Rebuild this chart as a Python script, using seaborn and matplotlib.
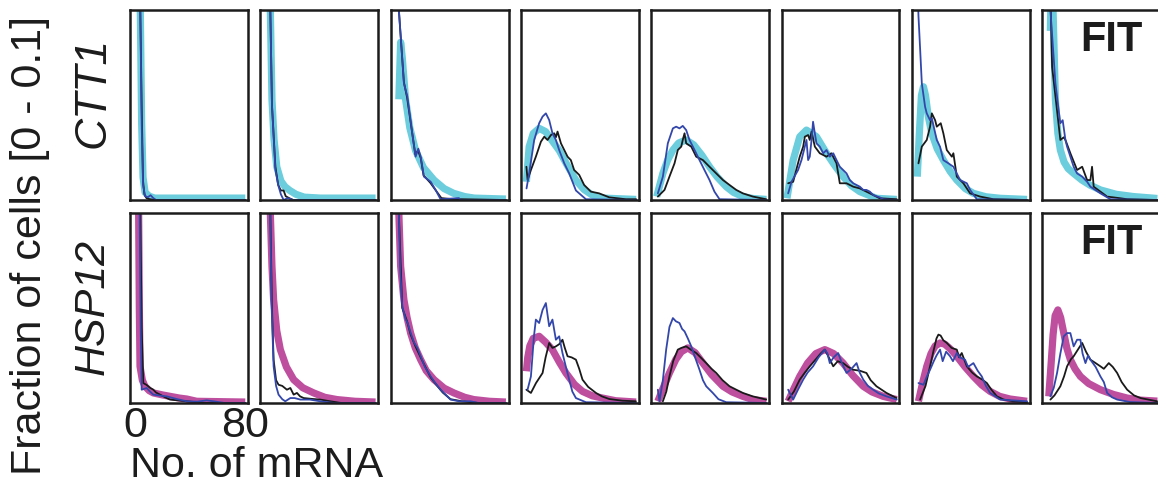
import matplotlib
matplotlib.use("Agg")
import matplotlib.pyplot as plt
import pandas as pd
import seaborn as sns

# ---------------- data (x = No. of mRNA, y = fraction of cells) ----------------
genes = ["CTT1", "HSP12"]
x_ticks = [0, 80]
x_tick_labels = ["0", "80"]
y_label = "Fraction of cells [0 - 0.1]"
x_label = "No. of mRNA"
fit_label = "FIT"

# CTT1 — fit (thick cyan), measured replicate (black), measured replicate (blue), 8 conditions
ctt1_fit = [
    [(0, 1.0), (2, 0.5), (3.5, 0.1), (4.5, 0.04), (5.5, 0.012), (7, 0.004), (10, 0.002), (14, 0.001), (80, 0.001)],
    [(0, 0.6), (2, 0.2), (3.3, 0.1), (4.5, 0.053), (6, 0.032), (8, 0.0175), (11, 0.01), (14, 0.007), (17.5, 0.005),
     (22, 0.003), (28, 0.0015), (40, 0.001), (80, 0.001)],
    [(2, 0.053), (3.3, 0.083), (4.5, 0.075), (6.9, 0.053), (10, 0.038), (14.2, 0.026), (20, 0.017), (27.6, 0.0105),
     (35, 0.006), (42, 0.0035), (50, 0.0018), (57, 0.001), (80, 0.0005)],
    [(0, 0.0096), (2, 0.028), (5, 0.035), (9.3, 0.0377), (14, 0.036), (19, 0.031), (24, 0.026), (30, 0.018),
     (36, 0.0105), (42, 0.0055), (48, 0.0026), (56, 0.001), (80, 0.0003)],
    [(0, 0.0018), (4.5, 0.014), (8, 0.021), (11.8, 0.0263), (16, 0.030), (21.5, 0.0316), (27, 0.029), (33, 0.0235),
     (38.5, 0.0175), (44, 0.0122), (50.7, 0.007), (56, 0.004), (62.8, 0.0018), (70, 0.0008), (80, 0.0003)],
    [(0, 0.0009), (4.5, 0.021), (9.3, 0.0333), (14.2, 0.0368), (21.5, 0.0333), (28.8, 0.0246), (35, 0.018),
     (40.9, 0.0123), (47, 0.0075), (53.1, 0.0044), (65.2, 0.0009), (80, 0.0003)],
    [(0, 0.0123), (1.5, 0.035), (3, 0.055), (4.5, 0.0596), (6, 0.055), (8, 0.044), (10.6, 0.035), (14.5, 0.027),
     (19, 0.021), (24, 0.015), (28.8, 0.0105), (35, 0.006), (40.9, 0.0035), (50, 0.0017), (60.4, 0.0009), (80, 0.0003)],
    [(2, 0.089), (3, 0.125), (4, 0.1), (5.7, 0.0526), (7.5, 0.035), (9.3, 0.0263), (12, 0.02), (15, 0.0165),
     (19, 0.014), (25, 0.0105), (31, 0.0078), (38.5, 0.0053), (50, 0.003), (62.8, 0.0018), (80, 0.0008)],
]
ctt1_black = [
    [(0, 1.0), (2, 0.5), (3.5, 0.1), (4.5, 0.05), (5.5, 0.01), (6.5, 0.003), (8, 0.001), (10, 0.0005), (14, 0.0), (80, 0.0)],
    [(0, 0.6), (2, 0.2), (3.3, 0.1), (4.5, 0.05), (7, 0.0175), (9, 0.008), (11, 0.005), (13, 0.005), (14.5, 0.002),
     (17, 0.001), (20, 0.0), (80, 0.0)],
    [(1, 0.14), (2, 0.1), (5.7, 0.062), (8, 0.054), (12, 0.034), (14, 0.024), (16, 0.026), (18, 0.022), (20, 0.013),
     (25, 0.009), (29, 0.005), (33, 0.001), (40, 0.0005), (80, 0.0)],
    [(0, 0.0175), (0.9, 0.0105), (3.3, 0.0158), (6.9, 0.0228), (10.6, 0.0307), (13, 0.0333), (15.4, 0.0316),
     (17.9, 0.0342), (20.3, 0.0351), (21.5, 0.033), (22.7, 0.036), (25.2, 0.0298), (27.6, 0.0263), (30, 0.0228),
     (32.4, 0.021), (34.8, 0.0158), (38.5, 0.0132), (42.1, 0.0079), (47, 0.0044), (53, 0.0035), (60.4, 0.0014),
     (72.5, 0.0004), (80, 0.0004)],
    [(0.85, 0.0018), (5.7, 0.0053), (9.3, 0.0123), (13, 0.0193), (15.4, 0.0263), (17.9, 0.0281), (19, 0.0316),
     (20.3, 0.0351), (21.5, 0.0298), (25.2, 0.0281), (28.8, 0.0228), (33.7, 0.021), (38.5, 0.0175), (43.4, 0.014),
     (48.3, 0.0105), (53.1, 0.0079), (58, 0.0053), (62.8, 0.0035), (70.1, 0.0018), (79.8, 0.0004)],
    [(0.85, 0.0088), (4.5, 0.0096), (9.3, 0.0228), (11.8, 0.0281), (13, 0.0333), (15.4, 0.0342), (16.6, 0.0316),
     (17.9, 0.036), (20.3, 0.0281), (23.9, 0.0246), (28.8, 0.0228), (32.4, 0.0246), (36.1, 0.0193), (38.5, 0.0088),
     (43.4, 0.0088), (48.3, 0.007), (53.1, 0.0061), (60.4, 0.0035), (67.6, 0.0009), (80, 0.0004)],
    [(0.85, 0.0193), (3.3, 0.0281), (6.9, 0.0316), (9.3, 0.0386), (10.6, 0.0456), (13, 0.042), (14.2, 0.0386),
     (17.1, 0.0404), (19, 0.0351), (21.5, 0.0263), (25.2, 0.0228), (26.3, 0.0246), (28.8, 0.0123), (33.6, 0.0088),
     (38.5, 0.0035), (45.8, 0.0018), (55.5, 0.0004), (80, 0.0)],
    [(2, 0.11), (3.3, 0.07), (6.9, 0.047), (9.3, 0.0316), (11.8, 0.033), (13, 0.0316), (16.6, 0.0246), (21.5, 0.0158),
     (25.2, 0.0175), (28.8, 0.0105), (31.2, 0.0105), (32.4, 0.0175), (33.6, 0.007), (38.5, 0.0044), (43.4, 0.0018),
     (53.1, 0.0009), (58, 0.0004), (80, 0.0)],
]
ctt1_blue = [
    [(0, 1.0), (2, 0.5), (3.5, 0.1), (4.5, 0.04), (5.5, 0.008), (7, 0.002), (9, 0.0015), (11, 0.0025), (13, 0.001),
     (15, 0.0), (80, 0.0)],
    [(0, 0.6), (2, 0.2), (3.3, 0.1), (4.5, 0.05), (7, 0.016), (9, 0.008), (11, 0.003), (13, 0.0), (16, 0.001),
     (20, 0.0), (80, 0.0)],
    [(1, 0.14), (2.05, 0.1), (5.7, 0.0614), (8.2, 0.0544), (11.8, 0.035), (14.2, 0.0228), (16.2, 0.027),
     (17.9, 0.0228), (20.3, 0.0123), (25.2, 0.0096), (28.8, 0.0053), (32.4, 0.0004), (45.8, 0.001), (47, 0.0), (80, 0.0)],
    [(0.1, 0.0061), (2, 0.014), (5.7, 0.0316), (9.3, 0.0404), (11.8, 0.0439), (14.2, 0.0456), (16.6, 0.0421),
     (19, 0.0351), (21.5, 0.0316), (23.9, 0.0263), (27.6, 0.0193), (31.2, 0.014), (36.1, 0.005), (43.4, 0.0004),
     (80, 0.0)],
    [(0.85, 0.0035), (4.5, 0.0123), (8.1, 0.0298), (11.8, 0.0377), (14.2, 0.0386), (16.6, 0.0377), (19, 0.039),
     (21.5, 0.0368), (23.9, 0.0316), (27.6, 0.0263), (31.2, 0.021), (34.8, 0.0158), (38.5, 0.0105), (42.1, 0.0044),
     (45.8, 0.0004), (80, 0.0)],
    [(0.85, 0.0035), (3.3, 0.0096), (8.1, 0.0158), (10.6, 0.0211), (13, 0.0281), (14.2, 0.0316), (15.4, 0.021),
     (16.6, 0.0228), (17.9, 0.0316), (19, 0.0412), (20.3, 0.035), (21.5, 0.0298), (23.9, 0.0281), (26.4, 0.0246),
     (28.8, 0.0263), (31.2, 0.0228), (33.7, 0.0246), (36.1, 0.021), (38.5, 0.0175), (40.9, 0.0158), (43.4, 0.014),
     (45.8, 0.0105), (48.3, 0.0088), (50.7, 0.0079), (53.1, 0.007), (55.6, 0.0053), (57.9, 0.0053), (60.4, 0.0044),
     (62.8, 0.0026), (67.6, 0.0014), (70.1, 0.0004), (80, 0.0)],
    [(0, 0.12), (0.85, 0.097), (2.1, 0.079), (3.3, 0.0614), (5.7, 0.049), (6.9, 0.0456), (9.3, 0.042), (10.6, 0.043),
     (14.2, 0.0316), (16.6, 0.028), (19, 0.021), (22.7, 0.0193), (26.3, 0.0175), (31.2, 0.0105), (36.1, 0.0088),
     (38.5, 0.0053), (43.4, 0.0004), (80, 0.0)],
    [(0, 0.14), (2.05, 0.1), (5.7, 0.0614), (8.1, 0.047), (9.3, 0.0404), (11, 0.042), (13, 0.0316), (14.2, 0.0281),
     (16.6, 0.0228), (19, 0.0175), (21.5, 0.014), (25.2, 0.0123), (28.8, 0.0096), (31.2, 0.007), (38.5, 0.0035),
     (45.8, 0.0004), (80, 0.0)],
]

# HSP12 — fit (thick magenta), black replicate, blue replicate, 8 conditions
hsp12_fit = [
    [(0, 0.4), (1.5, 0.15), (2.3, 0.1), (2.8, 0.05), (3.3, 0.0193), (5, 0.012), (6.9, 0.0088), (10, 0.0065),
     (13, 0.0053), (20, 0.0042), (25.2, 0.0035), (32, 0.0026), (37.3, 0.0021), (44.6, 0.0009), (80, 0.0005)],
    [(0, 0.4), (1.5, 0.2), (3.3, 0.1), (4.5, 0.072), (5.7, 0.0544), (8, 0.038), (10.6, 0.0281), (15, 0.019),
     (20.3, 0.0123), (27, 0.008), (34.9, 0.0053), (43, 0.003), (51.9, 0.0018), (65, 0.0009), (80, 0.0005)],
    [(0, 0.25), (1, 0.15), (2, 0.1), (3.3, 0.072), (5.7, 0.0544), (8, 0.045), (10.6, 0.0368), (14, 0.029),
     (17.9, 0.0228), (22, 0.017), (27.6, 0.0123), (35, 0.0078), (42.1, 0.0053), (50, 0.003), (56.7, 0.0018),
     (68, 0.0009), (80, 0.0005)],
    [(0, 0.0167), (1, 0.024), (2.5, 0.030), (5, 0.034), (9.3, 0.0351), (14, 0.032), (19, 0.028), (24, 0.0215),
     (28.8, 0.0158), (35, 0.0098), (40.9, 0.0061), (48, 0.0038), (55.5, 0.0026), (65, 0.0012), (80, 0.0005)],
    [(0.85, 0.0009), (4.5, 0.0075), (9.3, 0.0158), (14, 0.023), (18, 0.027), (22.7, 0.029), (28, 0.0265),
     (33.7, 0.021), (40, 0.015), (48.3, 0.0088), (55, 0.0058), (62.8, 0.0035), (70, 0.0018), (80, 0.0009)],
    [(0.85, 0.0009), (5, 0.0075), (9.3, 0.014), (15, 0.021), (21, 0.026), (27.6, 0.0281), (34, 0.026), (40.9, 0.021),
     (48, 0.0145), (55.6, 0.0088), (62, 0.0058), (70.1, 0.0035), (80, 0.0018)],
    [(0.85, 0.0009), (4, 0.011), (6.9, 0.0193), (10, 0.026), (13, 0.030), (16.6, 0.0316), (20, 0.031), (24, 0.0285),
     (28.8, 0.0246), (34.8, 0.019), (40.9, 0.014), (47, 0.0095), (53.1, 0.0061), (60, 0.0035), (67.6, 0.0021),
     (80, 0.0009)],
    [(0.85, 0.0035), (2.5, 0.02), (4, 0.036), (5.5, 0.046), (7.5, 0.049), (9.5, 0.045), (11.8, 0.0368), (14, 0.029),
     (16.6, 0.0228), (20, 0.018), (23.9, 0.014), (30, 0.0102), (38.5, 0.007), (48, 0.0045), (58, 0.0026),
     (68, 0.0015), (80, 0.001)],
]
hsp12_black = [
    [(0, 0.6), (2, 0.25), (3.5, 0.1), (4.5, 0.04), (5.7, 0.0105), (8.1, 0.0095), (10.6, 0.008), (13, 0.007),
     (15, 0.0055), (17.9, 0.0044), (22.7, 0.0026), (25.2, 0.0018), (37.3, 0.0009), (50, 0.0), (80, 0.0)],
    [(0, 0.4), (2, 0.2), (3.3, 0.1), (4.5, 0.05), (5.7, 0.0228), (7.5, 0.012), (9.3, 0.0096), (12, 0.009),
     (15.4, 0.007), (17.9, 0.0079), (20.3, 0.0044), (22.7, 0.0053), (25, 0.0035), (27.6, 0.0026), (33, 0.0022),
     (39.7, 0.0018), (47, 0.0009), (55, 0.0), (80, 0.0)],
    [(0, 0.3), (2, 0.1), (4.5, 0.05), (8, 0.043), (10.6, 0.036), (14, 0.03), (17.9, 0.024), (22, 0.018),
     (25.2, 0.0135), (30, 0.009), (34, 0.0055), (39.7, 0.002), (48, 0.0009), (60, 0.0), (80, 0.0)],
    [(0, 0.007), (3.3, 0.0053), (7, 0.0105), (11.8, 0.0158), (14, 0.024), (16.6, 0.0316), (19, 0.029), (21.5, 0.0298),
     (24, 0.031), (26.3, 0.0333), (28, 0.029), (30, 0.0246), (33, 0.024), (36.1, 0.0228), (38.5, 0.018),
     (40.9, 0.0123), (45, 0.0085), (50.7, 0.0053), (55, 0.0035), (60.4, 0.0021), (70, 0.0012), (79.8, 0.0009)],
    [(4.5, 0.0009), (7, 0.006), (9.3, 0.014), (12, 0.022), (15.4, 0.0281), (18, 0.029), (21.5, 0.0298), (25, 0.028),
     (28.8, 0.0263), (32, 0.024), (36.1, 0.021), (40, 0.018), (43.4, 0.0158), (48, 0.012), (53.1, 0.0088),
     (58, 0.007), (62.8, 0.0053), (70, 0.0035), (79.8, 0.0018)],
    [(0.85, 0.0018), (5, 0.006), (9.3, 0.0123), (13, 0.016), (16.6, 0.0193), (21, 0.023), (24.5, 0.026),
     (27.6, 0.0281), (30.5, 0.024), (33.7, 0.0193), (37, 0.022), (40.9, 0.021), (44.5, 0.019), (48.3, 0.0175),
     (53, 0.017), (57.9, 0.0158), (61, 0.012), (65.2, 0.0088), (72.5, 0.0053), (79.8, 0.0026)],
    [(2.05, 0.0018), (6, 0.009), (9.3, 0.0193), (12, 0.028), (14, 0.034), (15.4, 0.036), (17, 0.0355), (19, 0.033),
     (21.5, 0.0316), (25, 0.029), (28.8, 0.0281), (30.5, 0.024), (32.4, 0.0263), (36.1, 0.0193), (40, 0.016),
     (43.4, 0.014), (47, 0.0125), (50.7, 0.0105), (54, 0.007), (58, 0.0035), (63, 0.0018), (70.1, 0.0009),
     (80, 0.0004)],
    [(2.05, 0.0018), (5, 0.004), (9.3, 0.0088), (12, 0.014), (14.2, 0.0193), (17, 0.023), (19, 0.0246), (22, 0.028),
     (25.2, 0.0316), (28, 0.027), (31.2, 0.0228), (35, 0.021), (38.5, 0.0193), (41, 0.018), (44.6, 0.021),
     (47.5, 0.019), (50.7, 0.0158), (54, 0.011), (58, 0.007), (63, 0.004), (67.7, 0.0026), (79.8, 0.0009)],
]
hsp12_blue = [
    [(0, 0.5), (2, 0.2), (3, 0.1), (3.8, 0.04), (4.5, 0.007), (8.1, 0.0079), (10.6, 0.006), (13, 0.0044),
     (17.9, 0.0039), (22.7, 0.0035), (30, 0.0021), (37.3, 0.0009), (45, 0.0007), (51.9, 0.0014), (56.8, 0.0009),
     (65, 0.0), (80, 0.0)],
    [(0, 0.4), (2, 0.2), (3.2, 0.1), (4.3, 0.05), (5.7, 0.0193), (7.5, 0.009), (9.3, 0.0044), (12, 0.002),
     (14.2, 0.0009), (17.9, 0.0026), (21, 0.0026), (25.2, 0.0018), (32, 0.0018), (39.7, 0.0009), (50, 0.0), (80, 0.0)],
    [(0, 0.3), (1, 0.17), (2, 0.1), (3, 0.07), (4.5, 0.0509), (7, 0.044), (8.5, 0.042), (10.6, 0.037), (13, 0.032),
     (15.5, 0.029), (17.9, 0.0246), (21, 0.019), (25.2, 0.014), (28, 0.011), (32.4, 0.007), (36, 0.0045),
     (39.7, 0.0018), (46, 0.0009), (54.3, 0.0009), (60, 0.0), (80, 0.0)],
    [(0.85, 0.007), (3.3, 0.014), (5.5, 0.035), (6.9, 0.0439), (9.3, 0.0421), (11.8, 0.049), (14.2, 0.0526),
     (16.6, 0.0404), (19, 0.0439), (21.5, 0.0333), (23.9, 0.0351), (26.3, 0.0263), (28.8, 0.019), (31.2, 0.0123),
     (33.5, 0.006), (36.1, 0.0026), (43.4, 0.0004), (80, 0.0)],
    [(0.85, 0.007), (2.05, 0.0009), (4.5, 0.012), (6.9, 0.0281), (9.3, 0.04), (11.8, 0.0447), (14, 0.043),
     (16.6, 0.0421), (18.5, 0.039), (20.3, 0.0377), (22.7, 0.034), (25.2, 0.0298), (28, 0.024), (31.2, 0.0175),
     (33.7, 0.012), (36.1, 0.0088), (40.9, 0.0053), (45, 0.002), (50.7, 0.0004), (80, 0.0)],
    [(0.85, 0.007), (4.5, 0.0018), (8, 0.007), (11.8, 0.0123), (15, 0.016), (19, 0.0193), (23, 0.024), (27.6, 0.0281),
     (29.5, 0.026), (31.2, 0.021), (34, 0.024), (37.3, 0.0263), (40, 0.021), (43.4, 0.0158), (47, 0.018),
     (50.7, 0.021), (53, 0.016), (55.6, 0.0123), (59, 0.009), (62.8, 0.007), (67, 0.005), (72.5, 0.0035),
     (80, 0.0018)],
    [(0.85, 0.0105), (4.5, 0.0096), (7, 0.014), (9.3, 0.0175), (12, 0.022), (14, 0.025), (16.6, 0.0281),
     (18.5, 0.022), (21, 0.027), (23.9, 0.0246), (26, 0.022), (28.8, 0.0263), (31, 0.024), (34.8, 0.0228),
     (37, 0.019), (40.9, 0.021), (44, 0.017), (47, 0.014), (50, 0.009), (53.1, 0.0053), (60.4, 0.0018), (80, 0.0009)],
    [(2.05, 0.0035), (4.5, 0.008), (6.9, 0.0158), (9.3, 0.026), (11.8, 0.0351), (14.2, 0.0368), (16.6, 0.0368),
     (19, 0.0298), (21.5, 0.0333), (23.9, 0.0333), (25.5, 0.026), (27.6, 0.021), (29.5, 0.025), (31.2, 0.0228),
     (35, 0.019), (38.5, 0.014), (41, 0.011), (43.4, 0.0053), (47, 0.003), (50.7, 0.0018), (60, 0.0005), (80, 0.0)],
]

# ---------------- styling ----------------
sns.set_theme(style="white")
plt.rcParams["font.family"] = ["Liberation Sans", "DejaVu Sans"]

FIT_COLORS = {"CTT1": "#6ccddd", "HSP12": "#be4f9f"}
BLACK = "#1a1a1a"
BLUE = "#3347ab"
INK = "#1c1c1c"

W, H = 1158, 499
fig = plt.figure(figsize=(W / 100, H / 100), dpi=100)

col_left = [130 + i * 130.3 for i in range(8)]
row_top = [10, 213]
ax_w, ax_h = 118, 190

gene_series = {
    "CTT1": (ctt1_fit, ctt1_black, ctt1_blue),
    "HSP12": (hsp12_fit, hsp12_black, hsp12_blue),
}


def to_df(points):
    return pd.DataFrame(points, columns=["x", "y"])


for r, gene in enumerate(genes):
    fits, blacks, blues = gene_series[gene]
    for c in range(8):
        left = col_left[c] / W
        bottom = 1 - (row_top[r] + ax_h) / H
        ax = fig.add_axes([left, bottom, ax_w / W, ax_h / H])
        sns.lineplot(data=to_df(fits[c]), x="x", y="y", ax=ax, color=FIT_COLORS[gene],
                     linewidth=5.2, sort=False, estimator=None, solid_capstyle="butt")
        sns.lineplot(data=to_df(blacks[c]), x="x", y="y", ax=ax, color=BLACK,
                     linewidth=1.3, sort=False, estimator=None)
        sns.lineplot(data=to_df(blues[c]), x="x", y="y", ax=ax, color=BLUE,
                     linewidth=1.3, sort=False, estimator=None)
        ax.set_xlim(-4, 82)
        ax.set_ylim(0, 0.1)
        ax.set_yticks([])
        ax.set_ylabel("")
        ax.set_xlabel("")
        for sp in ax.spines.values():
            sp.set_visible(True)
            sp.set_linewidth(1.8)
            sp.set_color(INK)
        if r == 1 and c == 0:
            ax.set_xticks(x_ticks)
            ax.set_xticklabels(x_tick_labels, fontsize=31, color=INK)
            ax.tick_params(axis="x", length=0, pad=2)
            ax.set_xlabel(x_label, fontsize=31, color=INK, loc="left", labelpad=0)
        else:
            ax.set_xticks([])
        if c == 7:
            ax.text(0.59, 0.84, fit_label, transform=ax.transAxes, fontsize=30,
                    fontweight="bold", color=INK, ha="center", va="center")

# gene names (italic) and shared y label
fig.text(93 / W, 1 - 92 / H, genes[0], rotation=90, fontsize=32, style="italic",
         ha="center", va="center", color=INK)
fig.text(93 / W, 1 - 307 / H, genes[1], rotation=90, fontsize=31, style="italic",
         ha="center", va="center", color=INK)
fig.text(30 / W, 1 - 245 / H, y_label, rotation=90, fontsize=31,
         ha="center", va="center", color=INK)

fig.savefig("out.png", dpi=100)
